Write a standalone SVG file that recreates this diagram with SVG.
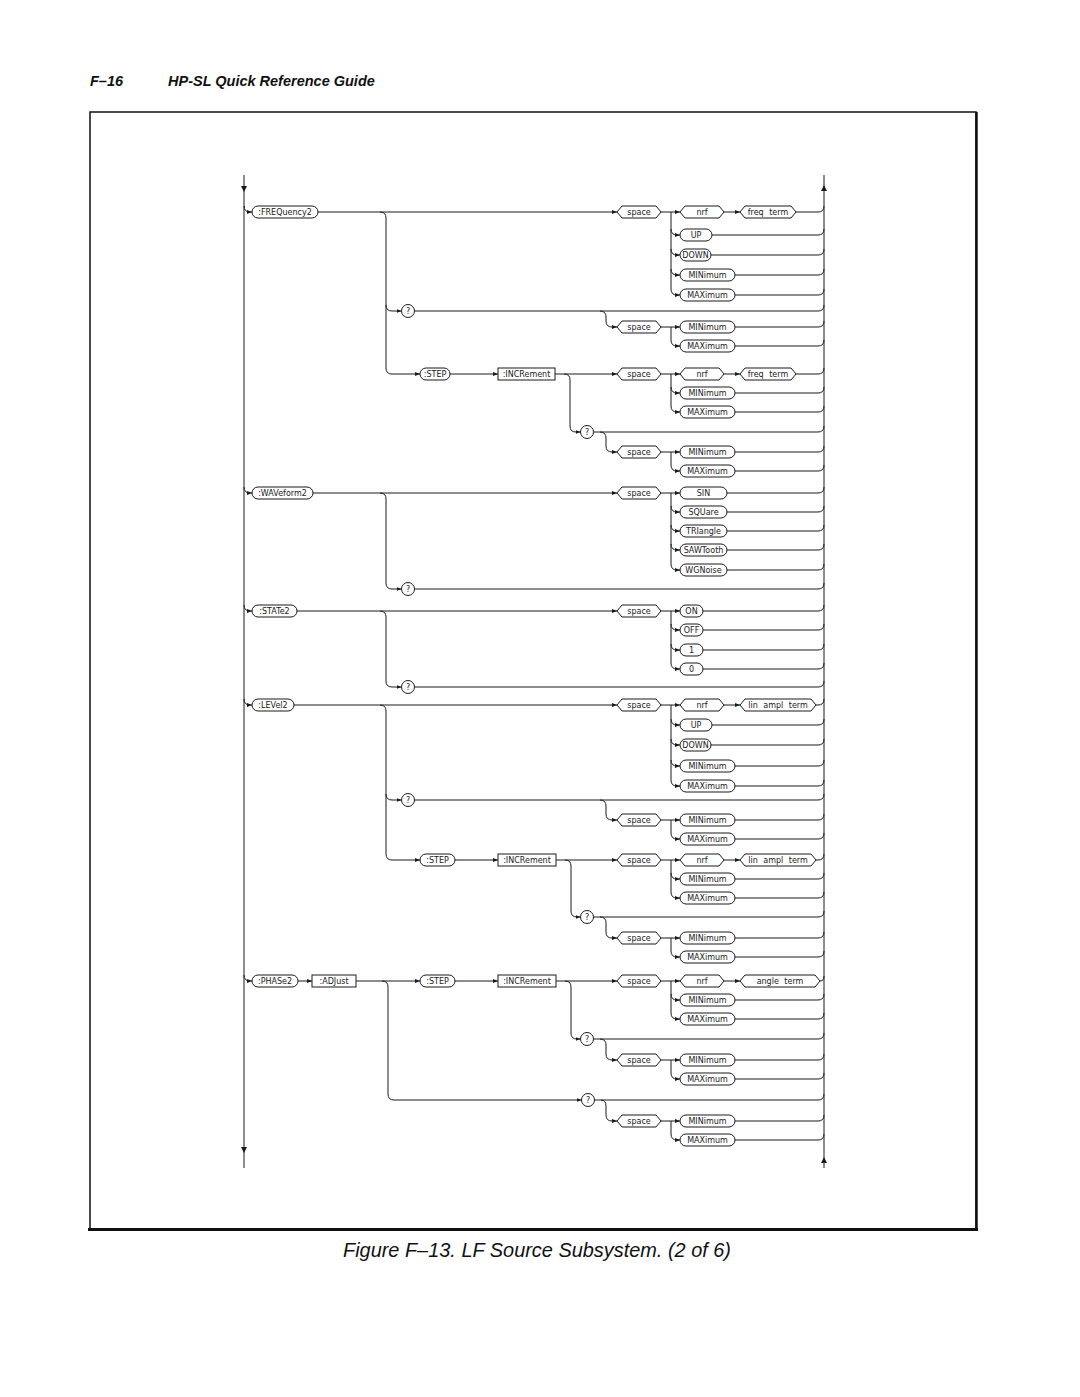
<svg xmlns="http://www.w3.org/2000/svg" width="1080" height="1397" viewBox="0 0 1080 1397">
<style>
.l{fill:none;stroke:#1a1a1a;stroke-width:1}
.a{marker-end:url(#ah)}
.b{fill:#fff;stroke:#1a1a1a;stroke-width:1}
.t{font-family:"DejaVu Sans",sans-serif;font-size:8px;fill:#1a1a1a;text-anchor:middle;dominant-baseline:central}
.w{word-spacing:3px}
.h{font-family:"Liberation Sans",Arial,sans-serif;font-weight:bold;font-style:italic;font-size:14.5px;fill:#111}
.c{font-family:"Liberation Sans",Arial,sans-serif;font-style:italic;font-size:20px;fill:#111}
</style>
<defs>
<marker id="ah" viewBox="0 0 6 6" refX="6" refY="3" markerWidth="5" markerHeight="5" orient="auto" markerUnits="userSpaceOnUse"><path d="M0,0.6 L6,3 L0,5.4z" fill="#1a1a1a"/></marker>
</defs>
<rect width="1080" height="1397" fill="#fff"/>
<text class="h" x="90" y="86">F–16</text>
<text class="h" x="168" y="86">HP-SL Quick Reference Guide</text>
<g id="frame">
<rect x="90" y="112" width="886" height="1117" fill="none" stroke="#111" stroke-width="1.5"/>
<line x1="976.5" y1="112" x2="976.5" y2="1230" stroke="#111" stroke-width="2.5"/>
<line x1="88" y1="1229.5" x2="978" y2="1229.5" stroke="#111" stroke-width="3"/>
</g>
<text class="c" x="537" y="1257" text-anchor="middle" textLength="388" lengthAdjust="spacingAndGlyphs">Figure F–13. LF Source Subsystem. (2 of 6)</text>
<g id="connectors">
<path class="l" d="M244,175 V1168 M824,175 V1168"/>
<path d="M241,186 L247,186 L244,192z M241,1147 L247,1147 L244,1153z M821,191 L827,191 L824,185z M821,1163 L827,1163 L824,1157z" fill="#1a1a1a"/>
<path class="l a" d="M244,206 Q244,212 250,212 H252"/>
<path class="l a" d="M244,487 Q244,493 250,493 H252"/>
<path class="l a" d="M244,605 Q244,611 250,611 H252"/>
<path class="l a" d="M244,699 Q244,705 250,705 H252"/>
<path class="l a" d="M244,975 Q244,981 250,981 H252"/>
<!-- FREQ -->
<path class="l a" d="M318,212 H617"/>
<path class="l a" d="M661,212 H680"/>
<path class="l a" d="M724,212 H740"/>
<path class="l" d="M796,212 H818 Q824,212 824,206"/>
<path class="l a" d="M671,212 V289 Q671,295 677,295 H680"/>
<path class="l a" d="M671,229 Q671,235 677,235 H680"/>
<path class="l a" d="M671,249 Q671,255 677,255 H680"/>
<path class="l a" d="M671,269 Q671,275 677,275 H680"/>
<path class="l" d="M712,235 H818 Q824,235 824,229 M711,255 H818 Q824,255 824,249 M735,275 H818 Q824,275 824,269 M735,295 H818 Q824,295 824,289"/>
<path class="l a" d="M380,212 Q386,212 386,218 V368 Q386,374 392,374 H420"/>
<path class="l a" d="M386,305 Q386,311 392,311 H401.5"/>
<path class="l" d="M414.5,311 H818 Q824,311 824,305"/>
<path class="l a" d="M600,311 Q606,311 606,317 V321 Q606,327 612,327 H617"/>
<path class="l a" d="M661,327 H680"/>
<path class="l a" d="M671,327 V340 Q671,346 677,346 H680"/>
<path class="l" d="M735,327 H818 Q824,327 824,321 M735,346 H818 Q824,346 824,340"/>
<path class="l a" d="M450,374 H498"/>
<path class="l a" d="M555,374 H617"/>
<path class="l a" d="M661,374 H680"/>
<path class="l a" d="M724,374 H740"/>
<path class="l" d="M796,374 H818 Q824,374 824,368"/>
<path class="l a" d="M671,374 V406 Q671,412 677,412 H680"/>
<path class="l a" d="M671,387 Q671,393 677,393 H680"/>
<path class="l" d="M735,393 H818 Q824,393 824,387 M735,412 H818 Q824,412 824,406"/>
<path class="l a" d="M564,374 Q570,374 570,380 V426 Q570,432 576,432 H580.5"/>
<path class="l" d="M593.5,432 H818 Q824,432 824,426"/>
<path class="l a" d="M600,432 Q606,432 606,438 V446 Q606,452 612,452 H617"/>
<path class="l a" d="M661,452 H680"/>
<path class="l a" d="M671,452 V465 Q671,471 677,471 H680"/>
<path class="l" d="M735,452 H818 Q824,452 824,446 M735,471 H818 Q824,471 824,465"/>
<!-- WAV -->
<path class="l a" d="M313,493 H617"/>
<path class="l a" d="M661,493 H680"/>
<path class="l a" d="M671,493 V564 Q671,570 677,570 H680"/>
<path class="l a" d="M671,506 Q671,512 677,512 H680"/>
<path class="l a" d="M671,525 Q671,531 677,531 H680"/>
<path class="l a" d="M671,544 Q671,550 677,550 H680"/>
<path class="l" d="M727,493 H818 Q824,493 824,487 M727,512 H818 Q824,512 824,506 M727,531 H818 Q824,531 824,525 M727,550 H818 Q824,550 824,544 M727,570 H818 Q824,570 824,564"/>
<path class="l a" d="M380,493 Q386,493 386,499 V583 Q386,589 392,589 H401.5"/>
<path class="l" d="M414.5,589 H818 Q824,589 824,583"/>
<!-- STATE -->
<path class="l a" d="M297,611 H617"/>
<path class="l a" d="M661,611 H680"/>
<path class="l a" d="M671,611 V663 Q671,669 677,669 H680"/>
<path class="l a" d="M671,624 Q671,630 677,630 H680"/>
<path class="l a" d="M671,644 Q671,650 677,650 H680"/>
<path class="l" d="M703,611 H818 Q824,611 824,605 M703,630 H818 Q824,630 824,624 M703,650 H818 Q824,650 824,644 M703,669 H818 Q824,669 824,663"/>
<path class="l a" d="M380,611 Q386,611 386,617 V681 Q386,687 392,687 H401.5"/>
<path class="l" d="M414.5,687 H818 Q824,687 824,681"/>
<!-- LEVEL -->
<path class="l a" d="M294,705 H617"/>
<path class="l a" d="M661,705 H680"/>
<path class="l a" d="M724,705 H740"/>
<path class="l" d="M816,705 H818 Q824,705 824,699"/>
<path class="l a" d="M671,705 V780 Q671,786 677,786 H680"/>
<path class="l a" d="M671,719 Q671,725 677,725 H680"/>
<path class="l a" d="M671,739 Q671,745 677,745 H680"/>
<path class="l a" d="M671,760 Q671,766 677,766 H680"/>
<path class="l" d="M712,725 H818 Q824,725 824,719 M711,745 H818 Q824,745 824,739 M735,766 H818 Q824,766 824,760 M735,786 H818 Q824,786 824,780"/>
<path class="l a" d="M380,705 Q386,705 386,711 V854 Q386,860 392,860 H420"/>
<path class="l a" d="M386,794 Q386,800 392,800 H401.5"/>
<path class="l" d="M414.5,800 H818 Q824,800 824,794"/>
<path class="l a" d="M600,800 Q606,800 606,806 V814 Q606,820 612,820 H617"/>
<path class="l a" d="M661,820 H680"/>
<path class="l a" d="M671,820 V833 Q671,839 677,839 H680"/>
<path class="l" d="M735,820 H818 Q824,820 824,814 M735,839 H818 Q824,839 824,833"/>
<path class="l a" d="M455,860 H498"/>
<path class="l a" d="M556,860 H617"/>
<path class="l a" d="M661,860 H680"/>
<path class="l a" d="M724,860 H740"/>
<path class="l" d="M816,860 H818 Q824,860 824,854"/>
<path class="l a" d="M671,860 V892 Q671,898 677,898 H680"/>
<path class="l a" d="M671,873 Q671,879 677,879 H680"/>
<path class="l" d="M735,879 H818 Q824,879 824,873 M735,898 H818 Q824,898 824,892"/>
<path class="l a" d="M565,860 Q571,860 571,866 V911 Q571,917 577,917 H580.5"/>
<path class="l" d="M593.5,917 H818 Q824,917 824,911"/>
<path class="l a" d="M600,917 Q606,917 606,923 V932 Q606,938 612,938 H617"/>
<path class="l a" d="M661,938 H680"/>
<path class="l a" d="M671,938 V951 Q671,957 677,957 H680"/>
<path class="l" d="M735,938 H818 Q824,938 824,932 M735,957 H818 Q824,957 824,951"/>
<!-- PHASE -->
<path class="l a" d="M298,981 H312"/>
<path class="l a" d="M356,981 H420"/>
<path class="l a" d="M455,981 H498"/>
<path class="l a" d="M556,981 H617"/>
<path class="l a" d="M661,981 H680"/>
<path class="l a" d="M724,981 H740"/>
<path class="l" d="M820,981 H820 Q824,981 824,976"/>
<path class="l a" d="M671,981 V1013 Q671,1019 677,1019 H680"/>
<path class="l a" d="M671,994 Q671,1000 677,1000 H680"/>
<path class="l" d="M735,1000 H818 Q824,1000 824,994 M735,1019 H818 Q824,1019 824,1013"/>
<path class="l a" d="M565,981 Q571,981 571,987 V1033 Q571,1039 577,1039 H580.5"/>
<path class="l" d="M593.5,1039 H818 Q824,1039 824,1033"/>
<path class="l a" d="M600,1039 Q606,1039 606,1045 V1054 Q606,1060 612,1060 H617"/>
<path class="l a" d="M661,1060 H680"/>
<path class="l a" d="M671,1060 V1073 Q671,1079 677,1079 H680"/>
<path class="l" d="M735,1060 H818 Q824,1060 824,1054 M735,1079 H818 Q824,1079 824,1073"/>
<path class="l a" d="M382,981 Q388,981 388,987 V1094 Q388,1100 394,1100 H581.5"/>
<path class="l" d="M594.5,1100 H818 Q824,1100 824,1094"/>
<path class="l a" d="M601,1100 Q606,1100 606,1106 V1115 Q606,1121 612,1121 H617"/>
<path class="l a" d="M661,1121 H680"/>
<path class="l a" d="M671,1121 V1134 Q671,1140 677,1140 H680"/>
<path class="l" d="M735,1121 H818 Q824,1121 824,1115 M735,1140 H818 Q824,1140 824,1134"/>
</g>
<!-- FREQ nodes -->
<g id="n1"><rect class="b" x="252" y="206" width="66" height="12" rx="6"/><text class="t" x="285" y="212">:FREQuency2</text></g>
<g id="n2"><path class="b" d="M617,212 L622,206 H656 L661,212 L656,218 H622z"/><text class="t" x="639" y="212">space</text></g>
<g id="n3"><path class="b" d="M680,212 L685,206 H719 L724,212 L719,218 H685z"/><text class="t" x="702" y="212">nrf</text></g>
<g id="n4"><path class="b" d="M740,212 L745,206 H791 L796,212 L791,218 H745z"/><text class="t w" x="768" y="212">freq term</text></g>
<g id="n5"><rect class="b" x="680" y="229" width="32" height="12" rx="6"/><text class="t" x="696" y="235">UP</text></g>
<g id="n6"><rect class="b" x="680" y="249" width="31" height="12" rx="6"/><text class="t" x="695.5" y="255">DOWN</text></g>
<g id="n7"><rect class="b" x="680" y="269" width="55" height="12" rx="6"/><text class="t" x="707.5" y="275">MINimum</text></g>
<g id="n8"><rect class="b" x="680" y="289" width="55" height="12" rx="6"/><text class="t" x="707.5" y="295">MAXimum</text></g>
<g id="n9"><circle class="b" cx="408" cy="311" r="6.5"/><text class="t" x="408" y="311">?</text></g>
<g id="n10"><path class="b" d="M617,327 L622,321 H656 L661,327 L656,333 H622z"/><text class="t" x="639" y="327">space</text></g>
<g id="n11"><rect class="b" x="680" y="321" width="55" height="12" rx="6"/><text class="t" x="707.5" y="327">MINimum</text></g>
<g id="n12"><rect class="b" x="680" y="340" width="55" height="12" rx="6"/><text class="t" x="707.5" y="346">MAXimum</text></g>
<g id="n13"><rect class="b" x="420" y="368" width="30" height="12" rx="6"/><text class="t" x="435" y="374">:STEP</text></g>
<g id="n14"><rect class="b" x="498" y="368" width="57" height="12"/><text class="t" x="526.5" y="374">:INCRement</text></g>
<g id="n15"><path class="b" d="M617,374 L622,368 H656 L661,374 L656,380 H622z"/><text class="t" x="639" y="374">space</text></g>
<g id="n16"><path class="b" d="M680,374 L685,368 H719 L724,374 L719,380 H685z"/><text class="t" x="702" y="374">nrf</text></g>
<g id="n17"><path class="b" d="M740,374 L745,368 H791 L796,374 L791,380 H745z"/><text class="t w" x="768" y="374">freq term</text></g>
<g id="n18"><rect class="b" x="680" y="387" width="55" height="12" rx="6"/><text class="t" x="707.5" y="393">MINimum</text></g>
<g id="n19"><rect class="b" x="680" y="406" width="55" height="12" rx="6"/><text class="t" x="707.5" y="412">MAXimum</text></g>
<g id="n20"><circle class="b" cx="587" cy="432" r="6.5"/><text class="t" x="587" y="432">?</text></g>
<g id="n21"><path class="b" d="M617,452 L622,446 H656 L661,452 L656,458 H622z"/><text class="t" x="639" y="452">space</text></g>
<g id="n22"><rect class="b" x="680" y="446" width="55" height="12" rx="6"/><text class="t" x="707.5" y="452">MINimum</text></g>
<g id="n23"><rect class="b" x="680" y="465" width="55" height="12" rx="6"/><text class="t" x="707.5" y="471">MAXimum</text></g>
<!-- WAV nodes -->
<g id="n24"><rect class="b" x="252" y="487" width="61" height="12" rx="6"/><text class="t" x="282.5" y="493">:WAVeform2</text></g>
<g id="n25"><path class="b" d="M617,493 L622,487 H656 L661,493 L656,499 H622z"/><text class="t" x="639" y="493">space</text></g>
<g id="n26"><rect class="b" x="680" y="487" width="47" height="12" rx="6"/><text class="t" x="703.5" y="493">SIN</text></g>
<g id="n27"><rect class="b" x="680" y="506" width="47" height="12" rx="6"/><text class="t" x="703.5" y="512">SQUare</text></g>
<g id="n28"><rect class="b" x="680" y="525" width="47" height="12" rx="6"/><text class="t" x="703.5" y="531">TRIangle</text></g>
<g id="n29"><rect class="b" x="680" y="544" width="47" height="12" rx="6"/><text class="t" x="703.5" y="550">SAWTooth</text></g>
<g id="n30"><rect class="b" x="680" y="564" width="47" height="12" rx="6"/><text class="t" x="703.5" y="570">WGNoise</text></g>
<g id="n31"><circle class="b" cx="408" cy="589" r="6.5"/><text class="t" x="408" y="589">?</text></g>
<!-- STATE nodes -->
<g id="n32"><rect class="b" x="252" y="605" width="45" height="12" rx="6"/><text class="t" x="274.5" y="611">:STATe2</text></g>
<g id="n33"><path class="b" d="M617,611 L622,605 H656 L661,611 L656,617 H622z"/><text class="t" x="639" y="611">space</text></g>
<g id="n34"><rect class="b" x="680" y="605" width="23" height="12" rx="6"/><text class="t" x="691.5" y="611">ON</text></g>
<g id="n35"><rect class="b" x="680" y="624" width="23" height="12" rx="6"/><text class="t" x="691.5" y="630">OFF</text></g>
<g id="n36"><rect class="b" x="680" y="644" width="23" height="12" rx="6"/><text class="t" x="691.5" y="650">1</text></g>
<g id="n37"><rect class="b" x="680" y="663" width="23" height="12" rx="6"/><text class="t" x="691.5" y="669">0</text></g>
<g id="n38"><circle class="b" cx="408" cy="687" r="6.5"/><text class="t" x="408" y="687">?</text></g>
<!-- LEVEL nodes -->
<g id="n39"><rect class="b" x="252" y="699" width="42" height="12" rx="6"/><text class="t" x="273" y="705">:LEVel2</text></g>
<g id="n40"><path class="b" d="M617,705 L622,699 H656 L661,705 L656,711 H622z"/><text class="t" x="639" y="705">space</text></g>
<g id="n41"><path class="b" d="M680,705 L685,699 H719 L724,705 L719,711 H685z"/><text class="t" x="702" y="705">nrf</text></g>
<g id="n42"><path class="b" d="M740,705 L745,699 H811 L816,705 L811,711 H745z"/><text class="t w" x="778" y="705">lin ampl term</text></g>
<g id="n43"><rect class="b" x="680" y="719" width="32" height="12" rx="6"/><text class="t" x="696" y="725">UP</text></g>
<g id="n44"><rect class="b" x="680" y="739" width="31" height="12" rx="6"/><text class="t" x="695.5" y="745">DOWN</text></g>
<g id="n45"><rect class="b" x="680" y="760" width="55" height="12" rx="6"/><text class="t" x="707.5" y="766">MINimum</text></g>
<g id="n46"><rect class="b" x="680" y="780" width="55" height="12" rx="6"/><text class="t" x="707.5" y="786">MAXimum</text></g>
<g id="n47"><circle class="b" cx="408" cy="800" r="6.5"/><text class="t" x="408" y="800">?</text></g>
<g id="n48"><path class="b" d="M617,820 L622,814 H656 L661,820 L656,826 H622z"/><text class="t" x="639" y="820">space</text></g>
<g id="n49"><rect class="b" x="680" y="814" width="55" height="12" rx="6"/><text class="t" x="707.5" y="820">MINimum</text></g>
<g id="n50"><rect class="b" x="680" y="833" width="55" height="12" rx="6"/><text class="t" x="707.5" y="839">MAXimum</text></g>
<g id="n51"><rect class="b" x="420" y="854" width="35" height="12" rx="6"/><text class="t" x="437.5" y="860">:STEP</text></g>
<g id="n52"><rect class="b" x="498" y="854" width="58" height="12"/><text class="t" x="527" y="860">:INCRement</text></g>
<g id="n53"><path class="b" d="M617,860 L622,854 H656 L661,860 L656,866 H622z"/><text class="t" x="639" y="860">space</text></g>
<g id="n54"><path class="b" d="M680,860 L685,854 H719 L724,860 L719,866 H685z"/><text class="t" x="702" y="860">nrf</text></g>
<g id="n55"><path class="b" d="M740,860 L745,854 H811 L816,860 L811,866 H745z"/><text class="t w" x="778" y="860">lin ampl term</text></g>
<g id="n56"><rect class="b" x="680" y="873" width="55" height="12" rx="6"/><text class="t" x="707.5" y="879">MINimum</text></g>
<g id="n57"><rect class="b" x="680" y="892" width="55" height="12" rx="6"/><text class="t" x="707.5" y="898">MAXimum</text></g>
<g id="n58"><circle class="b" cx="587" cy="917" r="6.5"/><text class="t" x="587" y="917">?</text></g>
<g id="n59"><path class="b" d="M617,938 L622,932 H656 L661,938 L656,944 H622z"/><text class="t" x="639" y="938">space</text></g>
<g id="n60"><rect class="b" x="680" y="932" width="55" height="12" rx="6"/><text class="t" x="707.5" y="938">MINimum</text></g>
<g id="n61"><rect class="b" x="680" y="951" width="55" height="12" rx="6"/><text class="t" x="707.5" y="957">MAXimum</text></g>
<!-- PHASE nodes -->
<g id="n62"><rect class="b" x="252" y="975" width="46" height="12" rx="6"/><text class="t" x="275" y="981">:PHASe2</text></g>
<g id="n63"><rect class="b" x="312" y="975" width="44" height="12"/><text class="t" x="334" y="981">:ADJust</text></g>
<g id="n64"><rect class="b" x="420" y="975" width="35" height="12" rx="6"/><text class="t" x="437.5" y="981">:STEP</text></g>
<g id="n65"><rect class="b" x="498" y="975" width="58" height="12"/><text class="t" x="527" y="981">:INCRement</text></g>
<g id="n66"><path class="b" d="M617,981 L622,975 H656 L661,981 L656,987 H622z"/><text class="t" x="639" y="981">space</text></g>
<g id="n67"><path class="b" d="M680,981 L685,975 H719 L724,981 L719,987 H685z"/><text class="t" x="702" y="981">nrf</text></g>
<g id="n68"><path class="b" d="M740,981 L745,975 H815 L820,981 L815,987 H745z"/><text class="t w" x="780" y="981">angle term</text></g>
<g id="n69"><rect class="b" x="680" y="994" width="55" height="12" rx="6"/><text class="t" x="707.5" y="1000">MINimum</text></g>
<g id="n70"><rect class="b" x="680" y="1013" width="55" height="12" rx="6"/><text class="t" x="707.5" y="1019">MAXimum</text></g>
<g id="n71"><circle class="b" cx="587" cy="1039" r="6.5"/><text class="t" x="587" y="1039">?</text></g>
<g id="n72"><path class="b" d="M617,1060 L622,1054 H656 L661,1060 L656,1066 H622z"/><text class="t" x="639" y="1060">space</text></g>
<g id="n73"><rect class="b" x="680" y="1054" width="55" height="12" rx="6"/><text class="t" x="707.5" y="1060">MINimum</text></g>
<g id="n74"><rect class="b" x="680" y="1073" width="55" height="12" rx="6"/><text class="t" x="707.5" y="1079">MAXimum</text></g>
<g id="n75"><circle class="b" cx="588" cy="1100" r="6.5"/><text class="t" x="588" y="1100">?</text></g>
<g id="n76"><path class="b" d="M617,1121 L622,1115 H656 L661,1121 L656,1127 H622z"/><text class="t" x="639" y="1121">space</text></g>
<g id="n77"><rect class="b" x="680" y="1115" width="55" height="12" rx="6"/><text class="t" x="707.5" y="1121">MINimum</text></g>
<g id="n78"><rect class="b" x="680" y="1134" width="55" height="12" rx="6"/><text class="t" x="707.5" y="1140">MAXimum</text></g>
</svg>
